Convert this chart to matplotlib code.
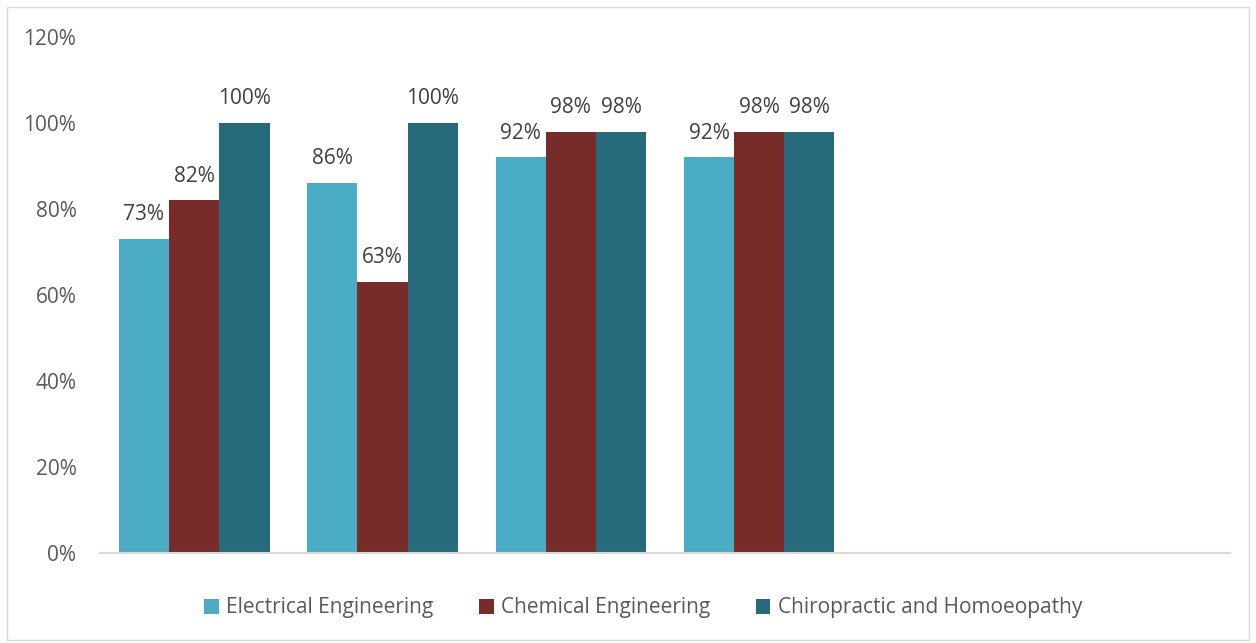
import matplotlib
matplotlib.use("Agg")
import matplotlib.pyplot as plt
from matplotlib.patches import Rectangle
import numpy as np

plt.rcParams['font.family'] = ['Open Sans', 'DejaVu Sans']

categories = ["", "", "", "", "", ""]
series_names = ["Electrical Engineering", "Chemical Engineering", "Chiropractic and Homoeopathy"]
electrical = [0.73, 0.86, 0.92, 0.92, None, None]
chemical = [0.82, 0.63, 0.98, 0.98, None, None]
chiro = [1.00, 1.00, 0.98, 0.98, None, None]
colors = ["#4BACC6", "#772C2A", "#276A7C"]
yticks = [0, 0.2, 0.4, 0.6, 0.8, 1.0, 1.2]

W, H = 1256, 643
fig = plt.figure(figsize=(W / 100, H / 100), dpi=100)
fig.patches.append(Rectangle((7 / W, 3 / H), (W - 14) / W, (H - 10) / H, transform=fig.transFigure,
                             fill=False, edgecolor="#D9D9D9", linewidth=1))
ax = fig.add_axes([100 / W, (H - 553) / H, 1130 / W, (553 - 37) / H])

x = np.arange(len(categories))
bw = 0.8 / 3
text_color = "#595959"
for i, (vals, name, c) in enumerate(zip([electrical, chemical, chiro], series_names, colors)):
    xs = [xi + (i - 1) * bw for xi, v in zip(x, vals) if v is not None]
    vs = [v for v in vals if v is not None]
    ax.bar(xs, vs, width=bw, color=c, label=name)
    for xx, v in zip(xs, vs):
        ax.annotate(f"{v:.0%}", (xx, v), xytext=(0, 10), textcoords="offset points",
                    ha="center", va="bottom", fontsize=15, color="#404040")

ax.set_xlim(-0.5, len(categories) - 0.5)
ax.set_ylim(0, 1.2)
ax.set_yticks(yticks)
ax.set_yticklabels([f"{t:.0%}" for t in yticks], fontsize=15, color=text_color)
ax.set_xticks([])
for s in ["top", "right", "left"]:
    ax.spines[s].set_visible(False)
ax.spines["bottom"].set_color("#D9D9D9")
ax.spines["bottom"].set_linewidth(1.5)
ax.tick_params(axis="y", length=0, pad=17)

leg = fig.legend(loc="center", bbox_to_anchor=(0.512, (H - 608) / H), ncol=3, frameon=False,
                 fontsize=15, handlelength=0.7, handleheight=0.7, handletextpad=0.35,
                 columnspacing=2.2)
for t in leg.get_texts():
    t.set_color(text_color)

fig.savefig("out.png", dpi=100)
